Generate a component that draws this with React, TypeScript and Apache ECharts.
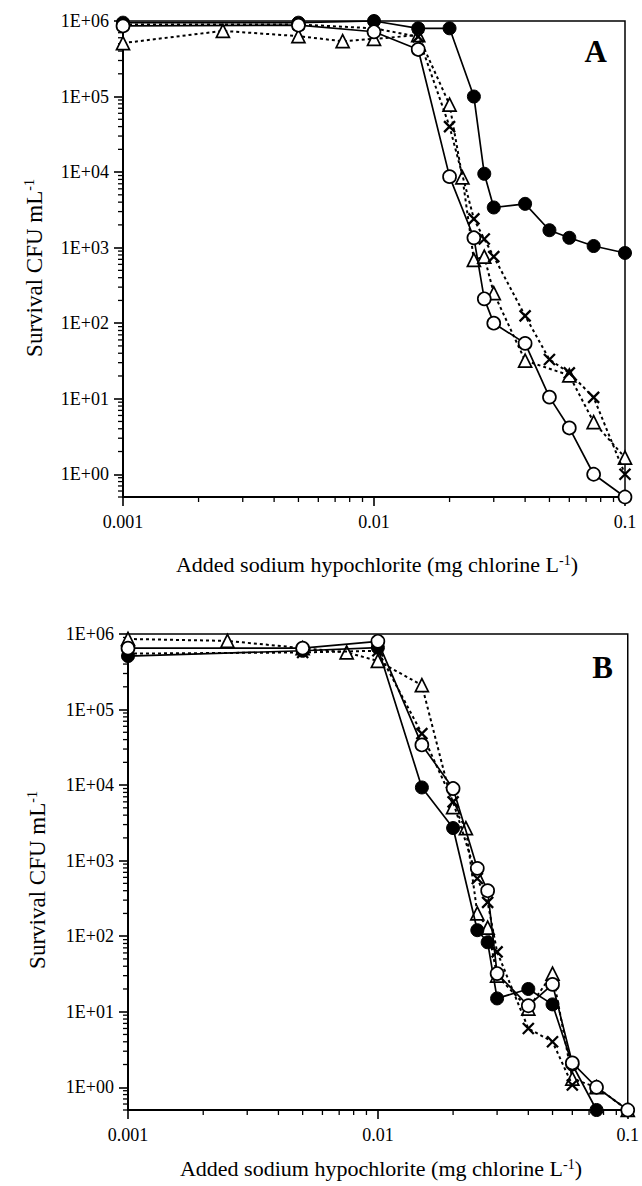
import React, { useEffect, useRef } from "react";
import * as echarts from "echarts";

// ---------- data (x: mg chlorine/L, y: CFU/mL) ----------
const aFilled = [
  [0.001, 9.5e5], [0.005, 9.5e5], [0.01, 1.0e6], [0.015, 8.0e5], [0.02, 8.0e5],
  [0.025, 1.0e5], [0.0275, 9.5e3], [0.03, 3.4e3], [0.04, 3.8e3], [0.05, 1.7e3],
  [0.06, 1.35e3], [0.075, 1.05e3], [0.1, 8.5e2],
];
const aOpen = [
  [0.001, 8.6e5], [0.005, 8.8e5], [0.01, 7.2e5], [0.015, 4.2e5], [0.02, 8.7e3],
  [0.025, 1.35e3], [0.0275, 2.1e2], [0.03, 1.0e2], [0.04, 54], [0.05, 10.5],
  [0.06, 4.1], [0.075, 1.0], [0.1, 0.5],
];
const aTriangle = [
  [0.001, 5.1e5], [0.0025, 7.4e5], [0.005, 6.3e5], [0.0075, 5.4e5], [0.01, 5.8e5],
  [0.015, 6.5e5], [0.02, 7.8e4], [0.0225, 8.5e3], [0.025, 6.9e2], [0.0275, 7.6e2],
  [0.03, 2.5e2], [0.04, 32], [0.06, 20.4], [0.075, 4.9], [0.1, 1.66],
];
const aCross = [
  [0.001, 9.0e5], [0.005, 9.0e5], [0.01, 8.0e5], [0.015, 6.2e5], [0.02, 4.0e4],
  [0.025, 2.4e3], [0.0275, 1.3e3], [0.03, 7.6e2], [0.04, 1.25e2], [0.05, 33],
  [0.06, 22], [0.075, 10.4], [0.1, 1.0],
];

const bFilled = [
  [0.001, 5.1e5], [0.005, 6.0e5], [0.01, 6.6e5], [0.015, 9.3e3], [0.02, 2.7e3],
  [0.025, 1.2e2], [0.0275, 83], [0.03, 15], [0.04, 20], [0.05, 12.5],
  [0.06, 2.0], [0.075, 0.5],
];
const bOpen = [
  [0.001, 6.5e5], [0.005, 6.5e5], [0.01, 8.0e5], [0.015, 3.4e4], [0.02, 9.0e3],
  [0.025, 7.9e2], [0.0275, 4.0e2], [0.03, 32], [0.04, 12], [0.05, 23],
  [0.06, 2.1], [0.075, 1.0], [0.1, 0.5],
];
const bTriangle = [
  [0.001, 8.6e5], [0.0025, 8.1e5], [0.005, 6.5e5], [0.0075, 5.7e5], [0.01, 4.4e5],
  [0.015, 2.1e5], [0.02, 5.1e3], [0.0225, 2.7e3], [0.025, 2.0e2], [0.0275, 1.3e2],
  [0.03, 30], [0.04, 11], [0.05, 32], [0.06, 1.3], [0.075, 1.0], [0.1, 0.5],
];
const bCross = [
  [0.001, 5.5e5], [0.005, 5.7e5], [0.01, 6.0e5], [0.015, 4.8e4], [0.02, 6.0e3],
  [0.025, 5.8e2], [0.0275, 2.8e2], [0.03, 62], [0.04, 6.0], [0.05, 4.0], [0.06, 1.07],
];

const xTickLabels = ["0.001", "0.01", "0.1"];
const yTickLabels = ["1E+00", "1E+01", "1E+02", "1E+03", "1E+04", "1E+05", "1E+06"];
const panelLetters = ["A", "B"];
const xTitle = "Added sodium hypochlorite (mg chlorine L{sup|-1})";
const yTitle = "Survival CFU mL{sup|-1}";

const X_MIN = 0.001;
const X_MAX = 0.1;
const Y_MIN = 0.5;
const Y_MAX = 1e6;

// minor tick positions (2..9 × 10^n) inside the axis ranges
const minorMultipliers = [2, 3, 4, 5, 6, 7, 8, 9];
const yDecades = [-1, 0, 1, 2, 3, 4, 5];
const xDecades = [-3, -2];

const FONT = "'Liberation Serif', 'Times New Roman', serif";

export default function App() {
  const ref = useRef<HTMLDivElement>(null);

  useEffect(() => {
    if (!ref.current) return;
    const chart = echarts.init(ref.current, null, { renderer: "svg" });

    const grids = [
      { left: 123, top: 21, width: 502, height: 476 },
      { left: 128, top: 634, width: 505, height: 476 },
    ];

    const yMinor: number[] = [];
    yDecades.forEach((d) =>
      minorMultipliers.forEach((m) => {
        const v = m * Math.pow(10, d);
        if (v > Y_MIN * 0.999 && v < Y_MAX) yMinor.push(v);
      })
    );
    const xMinor: number[] = [];
    xDecades.forEach((d) =>
      minorMultipliers.forEach((m) => xMinor.push(m * Math.pow(10, d)))
    );

    const xFmt = (v: number) => {
      const e = Math.log10(v);
      const r = Math.round(e);
      if (Math.abs(e - r) > 1e-6) return "";
      return xTickLabels[r + 3] ?? "";
    };
    const yFmt = (v: number) => {
      const e = Math.log10(v);
      const r = Math.round(e);
      if (Math.abs(e - r) > 1e-6) return "";
      return yTickLabels[r] ?? "";
    };

    const xAxes = grids.map((_, i) => ({
      type: "log",
      gridIndex: i,
      min: X_MIN,
      max: X_MAX,
      logBase: 10,
      axisLine: { show: true, onZero: false, lineStyle: { color: "#000", width: 2 } },
      axisTick: { show: true, length: 9, lineStyle: { color: "#000", width: 1.6 } },
      axisLabel: {
        formatter: xFmt,
        margin: 16,
        fontFamily: FONT,
        fontSize: 18,
        color: "#000",
      },
      splitLine: { show: false },
    }));
    const yAxes = grids.map((_, i) => ({
      type: "log",
      gridIndex: i,
      min: Y_MIN,
      max: Y_MAX,
      logBase: 10,
      axisLine: { show: true, onZero: false, lineStyle: { color: "#000", width: 2 } },
      axisTick: { show: true, length: 9, lineStyle: { color: "#000", width: 1.6 } },
      axisLabel: {
        formatter: yFmt,
        margin: 14,
        fontFamily: FONT,
        fontSize: 18,
        color: "#000",
        showMinLabel: false,
      },
      splitLine: { show: false },
    }));

    const solid = { color: "#000", width: 1.7, type: "solid" };
    const dashed = { color: "#000", width: 2, type: [3, 3] };
    const crossPath = "path://M0,0L10,10M10,0L0,10";

    const makeSeries = (i: number, sets: any[]) => {
      const [tri, cross, filled, open] = sets;
      return [
        {
          type: "line", xAxisIndex: i, yAxisIndex: i, data: tri,
          symbol: "triangle", symbolSize: 13, lineStyle: dashed,
          itemStyle: { color: "#fff", borderColor: "#000", borderWidth: 1.7 }, z: 3,
        },
        {
          type: "line", xAxisIndex: i, yAxisIndex: i, data: cross,
          symbol: crossPath, symbolSize: 11, lineStyle: dashed,
          itemStyle: { color: "transparent", borderColor: "#000", borderWidth: 2.3 }, z: 4,
        },
        {
          type: "line", xAxisIndex: i, yAxisIndex: i, data: filled,
          symbol: "circle", symbolSize: 13, lineStyle: solid,
          itemStyle: { color: "#000", borderColor: "#000", borderWidth: 1 }, z: 5,
        },
        {
          type: "line", xAxisIndex: i, yAxisIndex: i, data: open,
          symbol: "circle", symbolSize: 13, lineStyle: solid,
          itemStyle: { color: "#fff", borderColor: "#000", borderWidth: 1.7 }, z: 6,
        },
      ];
    };

    const minorSeries = (i: number) => [
      {
        type: "custom", xAxisIndex: i, yAxisIndex: i, silent: true, z: 1,
        data: yMinor.map((v) => [X_MIN, v]),
        renderItem: (_p: any, api: any) => {
          const p = api.coord([api.value(0), api.value(1)]);
          return {
            type: "line",
            shape: { x1: p[0] - 5, y1: p[1], x2: p[0], y2: p[1] },
            style: { stroke: "#000", lineWidth: 1.3 },
          };
        },
      },
      {
        type: "custom", xAxisIndex: i, yAxisIndex: i, silent: true, z: 1,
        data: xMinor.map((v) => [v, Y_MIN]),
        renderItem: (_p: any, api: any) => {
          const p = api.coord([api.value(0), api.value(1)]);
          return {
            type: "line",
            shape: { x1: p[0], y1: p[1], x2: p[0], y2: p[1] + 5 },
            style: { stroke: "#000", lineWidth: 1.3 },
          };
        },
      },
    ];

    const titleStyle = (text: string, size: number) => ({
      text,
      fontFamily: FONT,
      fontSize: size,
      fill: "#000",
      align: "center",
      verticalAlign: "middle",
      rich: {
        sup: { fontSize: Math.round(size * 0.62), fontFamily: FONT, verticalAlign: "top", fill: "#000" },
      },
    });

    const option: any = {
      animation: false,
      backgroundColor: "#fff",
      grid: grids.map((g) => ({
        ...g,
        show: true,
        borderColor: "#000",
        borderWidth: 1.5,
        backgroundColor: "transparent",
        containLabel: false,
      })),
      xAxis: xAxes,
      yAxis: yAxes,
      series: [
        ...minorSeries(0),
        ...minorSeries(1),
        ...makeSeries(0, [aTriangle, aCross, aFilled, aOpen]),
        ...makeSeries(1, [bTriangle, bCross, bFilled, bOpen]),
      ],
      graphic: [
        { type: "text", x: 377, y: 564, style: titleStyle(xTitle, 22) },
        { type: "text", x: 381, y: 1168, style: titleStyle(xTitle, 22) },
        { type: "text", x: 34, y: 268, rotation: Math.PI / 2, style: titleStyle(yTitle, 23) },
        { type: "text", x: 37, y: 880, rotation: Math.PI / 2, style: titleStyle(yTitle, 23) },
        {
          type: "text", x: 607, y: 51,
          style: { text: panelLetters[0], fontFamily: FONT, fontSize: 31, fontWeight: "bold", fill: "#000", align: "right", verticalAlign: "middle" },
        },
        {
          type: "text", x: 613, y: 667,
          style: { text: panelLetters[1], fontFamily: FONT, fontSize: 31, fontWeight: "bold", fill: "#000", align: "right", verticalAlign: "middle" },
        },
      ],
    };

    chart.setOption(option);
    return () => chart.dispose();
  }, []);

  return (
    <div
      ref={ref}
      style={{ position: "absolute", left: 0, top: 0, width: 642, height: 1186, background: "#fff" }}
    />
  );
}
